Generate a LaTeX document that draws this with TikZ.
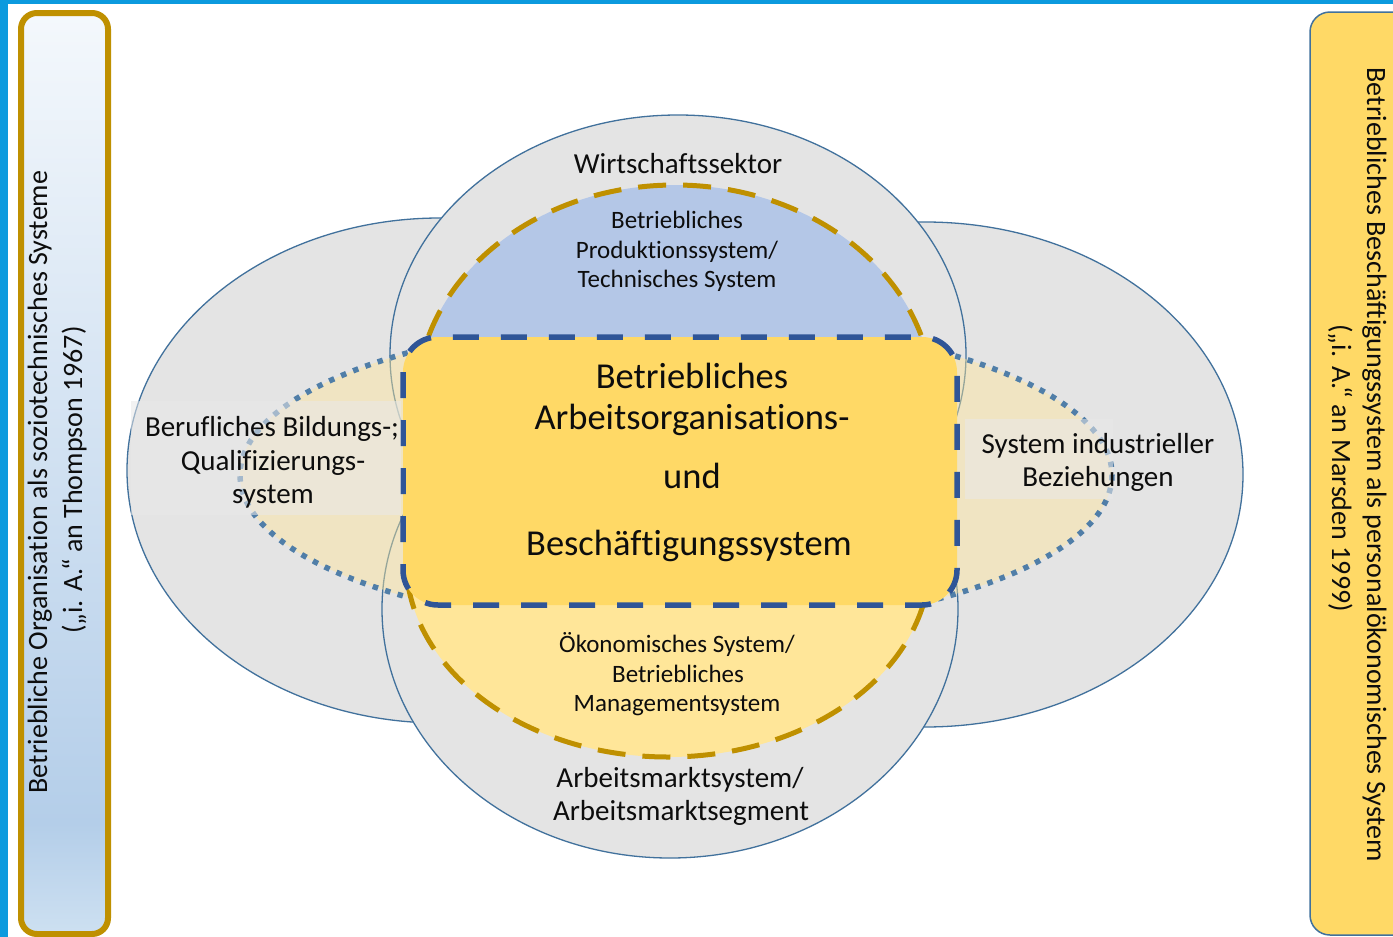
\documentclass[tikz,border=0pt]{standalone}
\usepackage{fontspec}
\setmainfont{Carlito}[Ligatures={NoCommon}]
\usetikzlibrary{shapes.geometric}
\definecolor{frameblue}{RGB}{12,154,222}
\definecolor{boxgold}{RGB}{191,144,0}
\definecolor{outl}{RGB}{65,113,156}
\definecolor{grayfill}{RGB}{228,228,228}
\definecolor{prodblue}{RGB}{180,199,231}
\definecolor{coreyellow}{RGB}{255,217,102}
\definecolor{lightyellow}{RGB}{255,230,153}
\definecolor{coreblue}{RGB}{47,85,151}
\definecolor{dotblue}{RGB}{80,126,168}
\definecolor{bandgray}{RGB}{233,233,233}
\definecolor{txt}{RGB}{13,13,13}
\definecolor{lbTop}{RGB}{244,248,252}
\definecolor{lbMid}{RGB}{180,206,233}
\definecolor{lbBot}{RGB}{205,224,241}
\pgfdeclareverticalshading{lboxshade}{100bp}{color(0bp)=(lbBot); color(25bp)=(lbBot); color(31bp)=(lbMid); color(75bp)=(lbTop); color(100bp)=(lbTop)}
\tikzset{
  graysys/.style={draw=outl, line width=1.3pt, fill=grayfill},
  golddash/.style={draw=boxgold, line width=5pt, dash pattern=on 28pt off 17pt},
  dotring/.style={draw=dotblue, line width=5.5pt, dash pattern=on 5.5pt off 7.5pt, fill=lightyellow, fill opacity=0.45},
  corebox/.style={draw=coreblue, line width=5.5pt, dash pattern=on 26pt off 22pt, fill=coreyellow, rounded corners=35pt},
  band/.style={fill=bandgray, fill opacity=0.55},
  lbl/.style={font=\fontsize{29}{34}\selectfont, anchor=base, inner sep=0pt, text=txt},
  sublbl/.style={font=\fontsize{25}{30}\selectfont, anchor=base, inner sep=0pt, text=txt},
  corelbl/.style={font=\fontsize{36.5}{42}\selectfont, anchor=base, inner sep=0pt, text=txt},
  sidelbl/.style={font=\fontsize{28}{33}\selectfont, anchor=base, inner sep=0pt, text=txt}
}
\begin{document}
\begin{tikzpicture}[x=1pt,y=-1pt]
\useasboundingbox (0,0) rectangle (1393,937);
\clip (0,0) rectangle (1393,937);
\fill[white] (0,0) rectangle (1393,937);
\fill[frameblue] (0,0) rectangle (1393,4);
\fill[frameblue] (0,0) rectangle (8,937);
% side boxes
\shadedraw[shading=lboxshade, draw=boxgold, line width=6pt, rounded corners=16pt] (21,13) rectangle (108,934);
\draw[outl, line width=1.5pt, fill=coreyellow, rounded corners=20pt] (1310,12) rectangle (1430,935);
% gray systems
\draw[graysys] (440,470.5) ellipse [x radius=313, y radius=252.5];
\draw[graysys] (925,474.5) ellipse [x radius=318, y radius=252.5];
\draw[graysys] (678,355) ellipse [x radius=288, y radius=240];
\draw[graysys] (670,609) ellipse [x radius=288, y radius=249];
% dotted ring
\draw[dotring] (676,475) ellipse [x radius=436, y radius=155];
% production system
\begin{scope}
\clip (0,0) rectangle (1393,370);
\draw[golddash, fill=prodblue] (675,400) ellipse [x radius=258, y radius=215];
\end{scope}
% economic system
\begin{scope}
\clip (0,585) rectangle (1393,937);
\draw[golddash, fill=lightyellow] (668,560) ellipse [x radius=262, y radius=197];
\end{scope}
% core
\draw[corebox] (403,337) rectangle (957,605);
% label bands
\fill[band] (131,401) rectangle (401,515);
\fill[band] (965,419) rectangle (1113,499);
% texts
\node[lbl] (wirt) at (678,173) {Wirtschaftssektor};
\node[sublbl] (prod1) at (677,228) {Betriebliches};
\node[sublbl] (prod2) at (677,258) {Produktionssystem/};
\node[sublbl] (prod3) at (677,287) {Technisches System};
\node[corelbl] (core1) at (692,388) {Betriebliches};
\node[corelbl] (core2) at (692,429) {Arbeitsorganisations-};
\node[corelbl] (core3) at (692,488) {und};
\node[corelbl] (core4) at (689,555) {Beschäftigungssystem};
\node[sublbl] (oek1) at (677,652) {Ökonomisches System/};
\node[sublbl] (oek2) at (678,682) {Betriebliches};
\node[sublbl] (oek3) at (677,711) {Managementsystem};
\node[lbl] (arb1) at (680,787) {Arbeitsmarktsystem/};
\node[lbl] (arb2) at (681,820) {Arbeitsmarktsegment};
\node[lbl] (ber1) at (272,436) {Berufliches Bildungs-;};
\node[lbl] (ber2) at (273,470) {Qualifizierungs-};
\node[lbl] (ber3) at (273,503) {system};
\node[lbl] (ind1) at (1098,453) {System industrieller};
\node[lbl] (ind2) at (1098,486) {Beziehungen};
\node[sidelbl, rotate=90] (lside1) at (47,482) {Betriebliche Organisation als soziotechnisches Systeme};
\node[sidelbl, rotate=90] (lside2) at (82,480) {(„i. A.“ an Thompson 1967)};
\node[sidelbl, rotate=-90] (rside1) at (1367,465) {Betriebliches Beschäftigungssystem als personalökonomisches System};
\node[sidelbl, rotate=-90] (rside2) at (1332,468) {(„i. A.“ an Marsden 1999)};
\end{tikzpicture}
\end{document}
